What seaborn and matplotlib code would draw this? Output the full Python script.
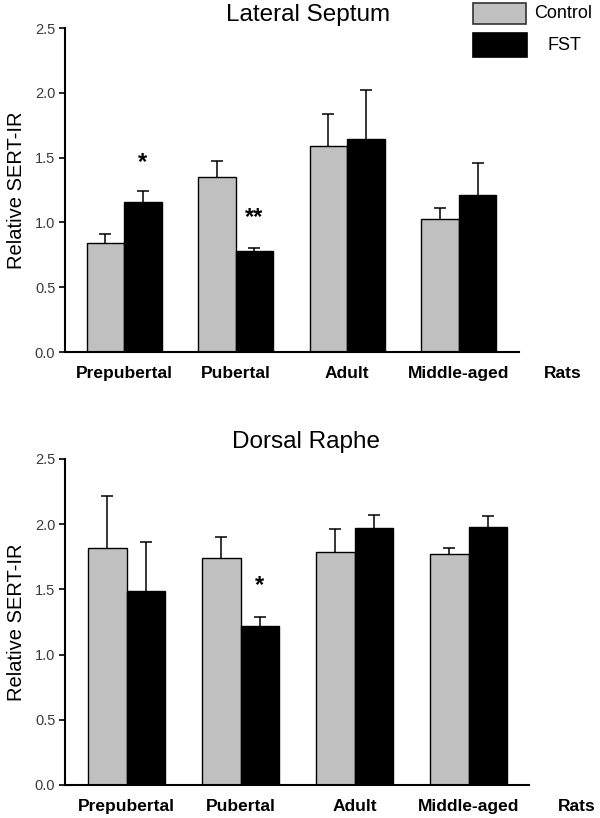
import numpy as np
import pandas as pd
import matplotlib
matplotlib.use("Agg")
import matplotlib.pyplot as plt
from matplotlib.patches import Rectangle
import seaborn as sns

# ---- data ----
stages = ["Prepubertal", "Pubertal", "Adult", "Middle-aged"]
groups = ["Control", "FST"]

ls_control = [0.84, 1.35, 1.59, 1.03]
ls_control_err = [0.07, 0.12, 0.25, 0.08]
ls_fst = [1.155, 0.78, 1.64, 1.21]
ls_fst_err = [0.085, 0.02, 0.38, 0.25]

dr_control = [1.82, 1.74, 1.79, 1.77]
dr_control_err = [0.40, 0.16, 0.17, 0.05]
dr_fst = [1.49, 1.22, 1.97, 1.98]
dr_fst_err = [0.37, 0.07, 0.10, 0.08]

ls_stars = {"Prepubertal": ("*", 1.46), "Pubertal": ("**", 1.04)}
dr_stars = {"Pubertal": ("*", 1.53)}

titles = ["Lateral Septum", "Dorsal Raphe"]
ylabel = "Relative SERT-IR"
yticks = [0.0, 0.5, 1.0, 1.5, 2.0, 2.5]

# ---- style ----
sns.set_style("ticks")
plt.rcParams["font.family"] = ["Liberation Sans", "DejaVu Sans"]
plt.rcParams["text.color"] = "black"
plt.rcParams["axes.labelcolor"] = "black"
plt.rcParams["axes.edgecolor"] = "black"
plt.rcParams["xtick.color"] = "black"
plt.rcParams["ytick.color"] = "black"
palette = {"Control": "#c0c0c0", "FST": "#000000"}

W, H = 600, 818
fig = plt.figure(figsize=(W / 100, H / 100), dpi=100)


def frac_box(l, r, t, b):
    return [l / W, 1 - b / H, (r - l) / W, (b - t) / H]


ax1 = fig.add_axes(frac_box(65, 519, 28, 352))
ax2 = fig.add_axes(frac_box(65, 529, 459, 785))


def make_df(ctrl, fst):
    return pd.DataFrame({
        "stage": stages * 2,
        "group": ["Control"] * 4 + ["FST"] * 4,
        "value": list(ctrl) + list(fst),
    })


def draw(ax, ctrl, ctrl_err, fst, fst_err, stars, xlim, title, title_xy, rats_x):
    df = make_df(ctrl, fst)
    sns.barplot(data=df, x="stage", y="value", hue="group", order=stages,
                hue_order=groups, palette=palette, errorbar=None, width=0.672,
                gap=0, edgecolor="black", linewidth=1.0, legend=False, ax=ax)
    errs = {"Control": (ctrl, ctrl_err), "FST": (fst, fst_err)}
    fst_x = {}
    for cont, g in zip(ax.containers, groups):
        xs = [p.get_x() + p.get_width() / 2 for p in cont.patches]
        vals, er = errs[g]
        vals = np.asarray(vals)
        er = np.asarray(er)
        ax.errorbar(xs, vals, yerr=[np.zeros(len(er)), er], fmt="none",
                    ecolor="black", elinewidth=1.1, capsize=0, zorder=1)
        ax.plot(xs, vals + er, ls="none", marker="_", ms=8, mew=1.1,
                color="black", zorder=1)
        if g == "FST":
            fst_x = dict(zip(stages, xs))
    for st, (sym, yv) in stars.items():
        ax.text(fst_x[st], yv, sym, ha="center", va="center", fontsize=17,
                fontweight="bold", color="black")
    ax.set_ylim(0, 2.5)
    ax.set_xlim(*xlim)
    ax.set_yticks(yticks)
    ax.set_yticklabels([f"{t:.1f}" for t in yticks])
    ax.set_xlabel("")
    ax.set_ylabel(ylabel, fontsize=14.5, labelpad=6)
    sns.despine(ax=ax)
    for s in ["left", "bottom"]:
        ax.spines[s].set_linewidth(1.5)
    ax.tick_params(axis="y", length=4, width=1.2, pad=3, labelsize=10.5,
                   labelcolor="#3a3a3a")
    ax.tick_params(axis="x", length=0, pad=10, labelsize=12.5)
    for lab in ax.get_xticklabels():
        lab.set_fontweight("bold")
    ax.annotate("Rats", xy=(rats_x, 0), xycoords=("data", "axes fraction"),
                xytext=(0, -10), textcoords="offset points", ha="center",
                va="top", fontsize=12.5, fontweight="bold")
    fig.text(title_xy[0] / W, 1 - title_xy[1] / H, title, ha="center",
             va="center", fontsize=17.5)


draw(ax1, ls_control, ls_control_err, ls_fst, ls_fst_err, ls_stars,
     (-0.53, 3.54), titles[0], (308, 15), 3.93)
draw(ax2, dr_control, dr_control_err, dr_fst, dr_fst_err, dr_stars,
     (-0.54, 3.53), titles[1], (306, 442), 3.95)

# ---- legend ----
def px_rect(x0, y0, x1, y1, fc, ec):
    fig.add_artist(Rectangle((x0 / W, 1 - y1 / H), (x1 - x0) / W, (y1 - y0) / H,
                             transform=fig.transFigure, facecolor=fc,
                             edgecolor=ec, linewidth=1.2))

px_rect(473, 3, 526, 24, palette["Control"], "#333333")
px_rect(473, 33, 527, 57, palette["FST"], "black")
fig.text(534 / W, 1 - 13 / H, "Control", ha="left", va="center", fontsize=13)
fig.text(564 / W, 1 - 45 / H, "FST", ha="center", va="center", fontsize=13)

fig.savefig("out.png", dpi=100)
